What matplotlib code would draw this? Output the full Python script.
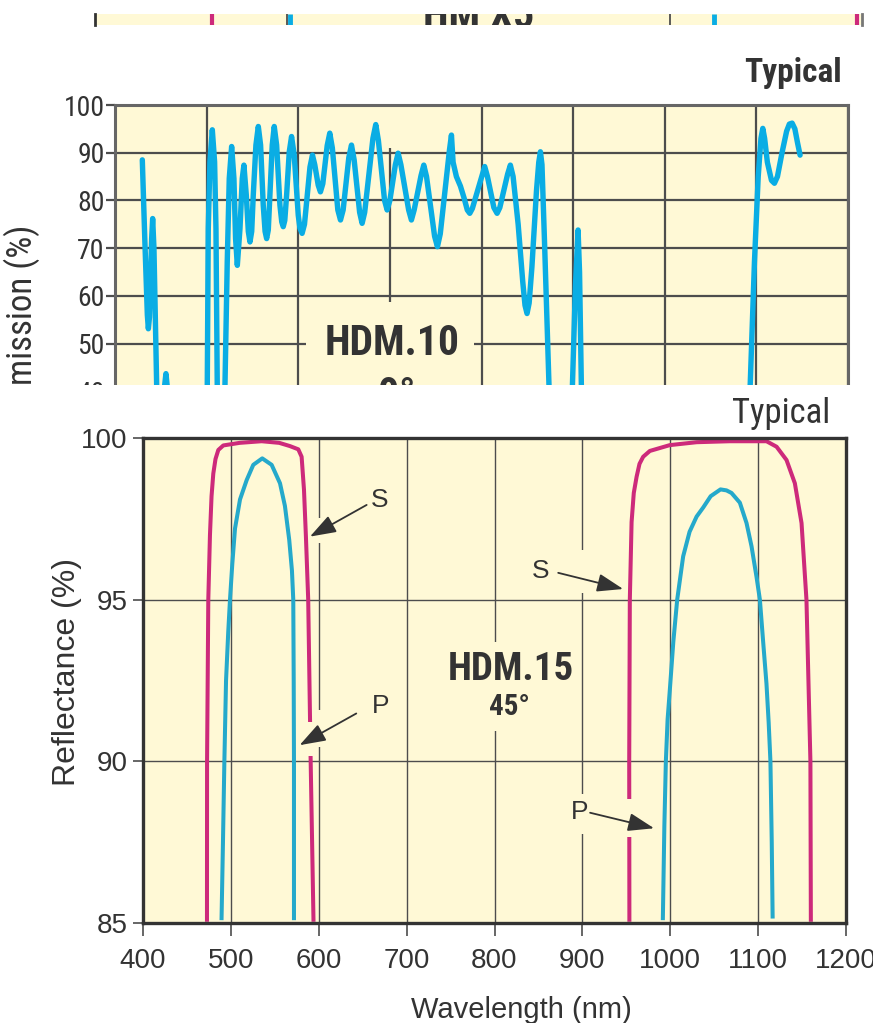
import matplotlib.pyplot as plt
from matplotlib import font_manager
from matplotlib.patches import Rectangle

# ---- fonts -------------------------------------------------------------
# condensed face for the catalogue-style labels, plain sans elsewhere
_fonts = font_manager.fontManager.ttflist
_bold = {f.name for f in _fonts if isinstance(f.weight, int) and f.weight >= 600
         or f.weight in ('bold', 'heavy', 'black', 'semibold', 'demibold')}
SANS = 'Liberation Sans'
NARROW = [n for n in ['Roboto Condensed', 'Liberation Sans Narrow',
                      'Fira Sans Condensed', 'IBM Plex Sans Condensed']
          if n in _bold][:1] + [SANS]
plt.rcParams['font.family'] = [SANS, 'DejaVu Sans']

# ---- data --------------------------------------------------------------
# strip of the chart above: x positions where lines cross it
strip_grid = [600, 1000]
strip_pink = [522, 1195]
strip_cyan = [603, 1046]

# HDM.10 transmission, 0 deg (values under ~41 % are hidden by the crop)
t_nm = [429.8, 432.5, 435.3, 436.4, 437.6, 440, 441.1, 442.5, 445.5,
        448.5, 453.5, 455.6, 457.5, 460, 498, 500.7, 501.8, 503.6, 506.2,
        508.7, 510.2, 511.6, 514, 517, 520, 522.5, 524.7, 527.3, 529.8,
        531.6, 533.5, 536.4, 538.9, 540.7, 543.3, 545.5, 547.3, 549.2,
        550.9, 553.8, 556.4, 558.9, 561.8, 563.8, 565.5, 567.3, 569.1,
        571.6, 573.8, 576.4, 580, 582, 583.6, 585.3, 587.3, 590.2, 592.7,
        595.6, 600, 601.8, 604.2, 606.8, 612.8, 615.5, 618, 621.8, 624.2,
        626.8, 631.6, 634.4, 637.2, 643.2, 646.1, 649, 655.2, 658.1, 661,
        667, 669.7, 672.5, 681.5, 684.6, 687.5, 694.2, 697, 700, 706, 709,
        712, 720.5, 723.5, 726.5, 734, 737, 740, 748.8, 751.9, 755, 765,
        767.2, 769, 772.6, 777, 781, 784.5, 787.2, 790, 800.5, 803.5,
        806.5, 813.5, 817, 820, 828.5, 831.5, 834.5, 840, 845, 847.5,
        849.7, 852, 855, 860, 862.5, 864.3, 866, 869, 873.7, 877, 897,
        899.2, 902.5, 905.4, 907, 909, 912, 1090, 1093.2, 1097.9, 1102,
        1105, 1107, 1109, 1112, 1116.5, 1119.7, 1123, 1128, 1133, 1136,
        1139, 1142, 1145, 1147.7]
t_val = [88.5, 72, 56, 53.1, 55.5, 72, 76.2, 70, 41,
         20, 40, 43.7, 40, 15, 10, 41, 74.1, 88.1, 94.8,
         88.1, 74.1, 41, 15, 15, 41, 67.1, 84.6, 91.3, 84.6,
         72, 66.4, 74.1, 84.6, 87.4, 81.1, 73.5, 71.3, 73.5,
         81.1, 91.6, 95.5, 91.6, 79, 73.5, 72, 73.8, 81.1,
         91.6, 95.5, 91.6, 79, 75.5, 74.5, 75.8, 81.1, 90.2, 93.4,
         89.5, 76.9, 74.2, 73.1, 75, 87, 89.5, 87.5, 83.2, 81.8,
         83.5, 91.5, 94.1, 91, 78, 75.9, 78, 89, 91.6, 88.5,
         77.5, 75.2, 77.5, 93, 95.9, 92.5, 80, 78, 80, 87.5, 89.9,
         87.5, 78, 75.9, 78, 85.2, 87.4, 85, 72.5, 70.3, 73, 90.5,
         93.7, 88, 85, 83, 80.5, 78, 77.3, 78.3, 85.2, 87.1,
         85, 78.5, 77.3, 78.5, 85.5, 87.4, 85, 75, 63, 58,
         56.3, 58.5, 66, 82, 88, 90.2, 87.5, 70, 41, 15, 15,
         41, 62, 73.8, 65, 41, 15, 15, 41, 67.1, 85,
         93, 95.1, 93, 88, 84.2, 83.6, 85, 90, 94.5, 96,
         96.2, 95, 92, 89.5]

# HDM.15 reflectance, 45 deg (S and P, two bands)
s1_nm = [472.8, 472.9, 474.3, 476.2, 478, 480, 482.5, 485.7, 491.4, 510,
         535, 555, 567.2, 576.7, 580.5, 583.2, 585.4, 588, 590.8, 594]
s1_R = [85.1, 90, 95, 97, 98.2, 98.9, 99.35, 99.63, 99.77, 99.85,
        99.9, 99.85, 99.75, 99.65, 99.42, 98.4, 96.95, 95.0, 90, 85.1]
p1_nm = [489.4, 491, 492.6, 494.5, 497, 499, 501.6, 504.7, 510.4, 518,
         525.5, 535.7, 546.4, 555.9, 561.5, 566.4, 569.5, 571, 571.5,
         571.8, 571.8]
p1_R = [85.15, 87.5, 90, 92.5, 94, 95, 96.1, 97.2, 98.1, 98.7,
        99.17, 99.37, 99.17, 98.6, 97.9, 96.85, 95.9, 95, 92.5, 90, 85.15]
s2_nm = [953.5, 953.3, 954, 956, 958.5, 961.7, 965, 969.2, 976.8, 999.5,
         1030, 1067.8, 1109.5, 1121, 1132.3, 1141.8, 1149.4, 1155, 1159.5,
         1160]
s2_R = [85.1, 90, 95, 97.4, 98.3, 98.8, 99.2, 99.42, 99.6, 99.78,
        99.87, 99.9, 99.9, 99.73, 99.32, 98.6, 97.37, 95, 90, 85.1]
p2_nm = [991.6, 993.3, 995, 997, 999.5, 1003.5, 1007.9, 1014.7, 1022,
         1030, 1037.5, 1046, 1057.2, 1064, 1069.7, 1079.2, 1086.8, 1092.5,
         1098.2, 1102, 1106, 1109.5, 1112, 1114, 1115.5, 1116.5]
p2_R = [85.15, 88, 90, 91.3, 92.2, 93.7, 95, 96.34, 97.1,
        97.57, 97.85, 98.2, 98.41, 98.38, 98.3, 98.0, 97.37, 96.65,
        95.7, 95, 93.6, 92.4, 91.2, 90, 87.5, 85.2]

x_ticks = [400, 500, 600, 700, 800, 900, 1000, 1100, 1200]
t_ticks = [40, 50, 60, 70, 80, 90, 100]
r_ticks = [85, 90, 95, 100]

# ---- style -------------------------------------------------------------
W, H = 873, 1023
BG = '#FFF9D6'
INK = '#333333'
GRID = '#4d4d4d'
CYAN = '#0AADE4'
TEAL = '#25A9CB'
PINK = '#CD2A7B'


def box(x0, y0, x1, y1):
    """pixel box (top-left origin) -> figure fraction rect"""
    return [x0 / W, 1 - y1 / H, (x1 - x0) / W, (y1 - y0) / H]


def knock(ax, x0, x1, y0, y1, z):
    # background-coloured patch, like the white-outs round the labels
    ax.add_patch(Rectangle((x0, y0), x1 - x0, y1 - y0, facecolor=BG,
                           edgecolor='none', zorder=z))


fig = plt.figure(figsize=(W / 100, H / 100), dpi=100)

# ---- strip of the chart above -----------------------------------------
ax0 = fig.add_axes(box(95, 14, 862, 25), zorder=2)
ax0.set_facecolor(BG)
ax0.set_xlim(400, 1200)
ax0.set_ylim(0, 1)
ax0.set_xticks([])
ax0.set_yticks([])
for s in ax0.spines.values():
    s.set_visible(False)
ax0.spines['left'].set_visible(True)
ax0.spines['left'].set_color(INK)
ax0.spines['left'].set_linewidth(2)
ax0.spines['right'].set_visible(True)
ax0.spines['right'].set_color('#777777')
ax0.spines['right'].set_linewidth(2)
ax0.vlines(strip_grid, 0, 1, color=GRID, lw=1.3)
ax0.vlines(strip_pink, 0, 1, color=PINK, lw=3)
ax0.vlines(strip_cyan, 0, 1, color=CYAN, lw=3.5)
ax0.text(800, -0.3, 'HM X5', ha='center', va='baseline', fontsize=30,
         weight='bold', family=NARROW, color=INK, clip_on=True)

# ---- HDM.10 transmission (cropped) -------------------------------------
ax1 = fig.add_axes(box(115, 105, 848, 439), zorder=0)
ax1.set_facecolor(BG)
ax1.set_xlim(400, 1200)
ax1.set_ylim(30, 100)
ax1.set_xticks(x_ticks)
ax1.set_yticks(t_ticks)
ax1.set_axisbelow(True)
ax1.grid(True, color=GRID, lw=1.6)
ax1.tick_params(axis='x', length=0, labelbottom=False)
ax1.tick_params(axis='y', length=6.5, width=1.6, color=GRID, pad=1,
                labelsize=20, labelcolor=INK)
for lab in ax1.get_yticklabels():
    lab.set_family(NARROW)
for s in ax1.spines.values():
    s.set_color('#666666')
    s.set_linewidth(2.2)
knock(ax1, 697, 703, 91, 100, 1)
knock(ax1, 609, 791.5, 30, 58.7, 1)
ax1.plot(t_nm, t_val, color=CYAN, lw=3.9, solid_joinstyle='round',
         solid_capstyle='round', zorder=2)
ax1.text(702.6, 47.6, 'HDM.10', ha='center', va='baseline', fontsize=30,
         weight='bold', family=NARROW, color=INK, zorder=3)
ax1.text(687, 36.7, '0°', ha='left', va='baseline', fontsize=30,
         weight='bold', family=NARROW, color=INK, zorder=3)

fig.text(842 / W, 1 - 82 / H, 'Typical', ha='right', va='baseline',
         fontsize=24, weight='bold', family=NARROW, color=INK, zorder=3)
fig.text(40 / W, 1 - 225 / H, 'Transmission (%)', rotation=90, ha='right',
         va='top', fontsize=25, family=NARROW, color=INK, zorder=0.5)

# white gap between the two pieces (also hides the overflow below)
fig.add_artist(Rectangle((0, 0), 1, 1 - 385 / H,
                         transform=fig.transFigure, facecolor='white',
                         edgecolor='none', zorder=1))

# ---- HDM.15 reflectance -------------------------------------------------
ax2 = fig.add_axes(box(143, 438, 846, 923), zorder=2)
ax2.set_facecolor(BG)
ax2.set_xlim(400, 1200)
ax2.set_ylim(85, 100)
ax2.set_xticks(x_ticks)
ax2.set_yticks(r_ticks)
ax2.set_axisbelow(True)
ax2.grid(True, color=GRID, lw=1.0)
ax2.tick_params(axis='x', length=9, width=1.2, color=GRID, pad=9,
                labelsize=20, labelcolor=INK)
ax2.tick_params(axis='y', length=7, width=1.2, color=GRID, pad=4,
                labelsize=20, labelcolor=INK)
for s in ax2.spines.values():
    s.set_color('#333333')
    s.set_linewidth(2.4)

# knock-outs where labels and arrows cut the grid / curves
for x0, x1, y0, y1 in [(597, 603, 96.76, 97.53), (597, 603, 90.43, 91.6),
                       (897, 903, 95.22, 96.54), (897, 903, 87.75, 89.0),
                       (797, 803, 90.93, 93.7)]:
    knock(ax2, x0, x1, y0, y1, 1)

ax2.plot(s1_nm, s1_R, color=PINK, lw=2.9, solid_joinstyle='round', zorder=2)
ax2.plot(p1_nm, p1_R, color=TEAL, lw=2.9, solid_joinstyle='round', zorder=2)
ax2.plot(s2_nm, s2_R, color=PINK, lw=2.9, solid_joinstyle='round', zorder=2)
ax2.plot(p2_nm, p2_R, color=TEAL, lw=2.9, solid_joinstyle='round', zorder=2)

for x0, x1, y0, y1 in [(587, 597, 90.15, 91.23), (949, 959, 87.65, 88.83)]:
    knock(ax2, x0, x1, y0, y1, 2.5)

arrow = dict(arrowstyle='-|>,head_length=0.8,head_width=0.28', color=INK,
             lw=1.3, mutation_scale=20, shrinkA=0, shrinkB=0)
for txt, tpos, start, tip in [('S', (669.6, 98.08), (654.5, 97.93), (590, 96.95)),
                              ('P', (670.8, 91.71), (642.7, 91.48), (578.2, 90.5)),
                              ('S', (852.8, 95.89), (872.5, 95.83), (946.4, 95.33)),
                              ('P', (897.2, 88.42), (908.8, 88.41), (981.6, 87.93))]:
    ax2.text(tpos[0], tpos[1], txt, ha='center', va='center', fontsize=19,
             color=INK, zorder=4)
    ax2.annotate('', xy=tip, xytext=start, arrowprops=arrow, zorder=4)

ax2.text(819.2, 92.51, 'HDM.15', ha='center', va='baseline', fontsize=28,
         weight='bold', family=NARROW, color=INK, zorder=4)
ax2.text(794, 91.43, '45°', ha='left', va='baseline', fontsize=21,
         weight='bold', family=NARROW, color=INK, zorder=4)

fig.text(830 / W, 1 - 423 / H, 'Typical', ha='right', va='baseline',
         fontsize=25, family=NARROW, color=INK, zorder=3)
fig.text(67 / W, 1 - 672 / H, 'Reflectance (%)', rotation=90, ha='center',
         va='center', fontsize=23, color=INK, zorder=3)
fig.text(521 / W, 1 - 1018 / H, 'Wavelength (nm)', ha='center',
         va='baseline', fontsize=21, color=INK, zorder=3)

fig.savefig('out.png', dpi=100)
